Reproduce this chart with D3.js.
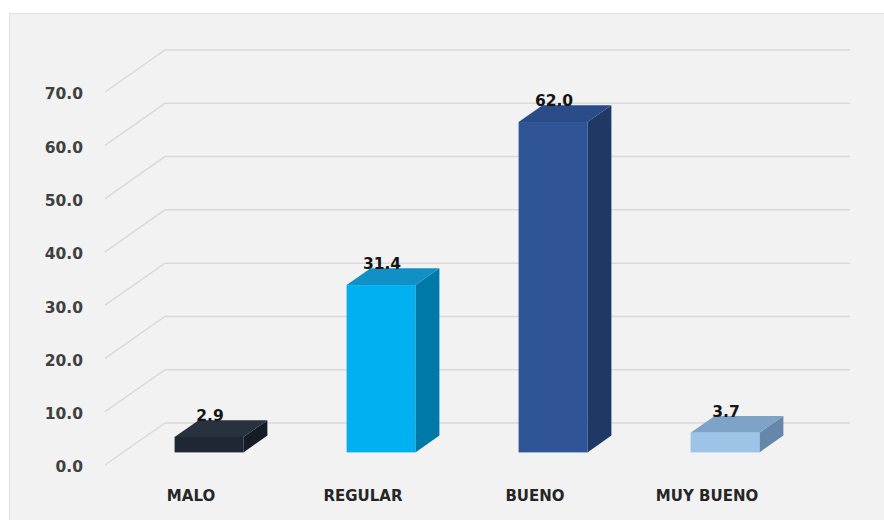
<!DOCTYPE html>
<html>
<head>
<meta charset="utf-8">
<script src="https://cdn.jsdelivr.net/npm/d3@7"></script>
<style>
  html, body { margin: 0; padding: 0; background: #ffffff; }
  svg { display: block; }
</style>
</head>
<body>
<svg id="chart" width="884" height="520"></svg>
<script>
// Ratings and their shares (%)
const categories = ["MALO", "REGULAR", "BUENO", "MUY BUENO"];
const values = [2.9, 31.4, 62.0, 3.7];
const yTicks = [0, 10, 20, 30, 40, 50, 60, 70];

// Face colours for each bar: front, top, side
const frontColors = ["#1e2733", "#00b0f0", "#2f5597", "#9dc3e6"];
const topColors   = ["#28323f", "#1190c6", "#2a4c88", "#7fa3c7"];
const sideColors  = ["#151c26", "#0079a8", "#1f3864", "#6687aa"];

const svg = d3.select("#chart");

// Chart panel
svg.append("rect")
  .attr("x", 9.5).attr("y", 13.5)
  .attr("width", 884).attr("height", 520)
  .attr("fill", "#f2f2f2")
  .attr("stroke", "#e2e2e2");

// 3D geometry: the floor recedes by (depthX, depthY) from the front edge to the back wall
const depthX = 60, depthY = -42;
const frontLeft = 105, frontRight = 793, backRight = 850;

const y = d3.scaleLinear().domain([0, 70]).range([465, 92]);
const x = d3.scaleBand().domain(categories)
  .range([frontLeft, frontRight])
  .paddingInner(0.6).paddingOuter(0.3);

// Bars sit between these depth fractions
const d0 = 0.3, d1 = 0.7;
const off = d => [depthX * d, depthY * d];

// Gridlines: short diagonal on the side wall, then along the back wall
const grid = svg.append("g");
yTicks.forEach(t => {
  const yf = y(t);
  grid.append("path")
    .attr("d", `M${frontLeft},${yf} L${frontLeft + depthX},${yf + depthY} L${backRight},${yf + depthY}`)
    .attr("fill", "none")
    .attr("stroke", "#d9d9d9")
    .attr("stroke-width", 1.5);
});

// Y axis labels
const yAxis = svg.append("g")
  .attr("transform", `translate(${frontLeft - 20},2)`)
  .call(d3.axisLeft(y).tickValues(yTicks).tickFormat(d3.format(".1f")).tickSize(0).tickPadding(2));
yAxis.select(".domain").remove();
yAxis.selectAll("text")
  .attr("font-family", "DejaVu Sans, sans-serif")
  .attr("font-weight", "bold")
  .attr("font-size", 15.5)
  .attr("fill", "#404040");

// Bars
const bars = svg.append("g");
categories.forEach((c, i) => {
  const v = values[i];
  const [fx, fy] = off(d0);
  const [bx, by] = off(d1);
  const xl = x(c) + fx, xr = x(c) + x.bandwidth() + fx;
  const yt = y(v) + fy, yb = y(0) + fy;
  const sdx = bx - fx, sdy = by - fy;
  const g = bars.append("g");
  // side face
  g.append("path")
    .attr("d", `M${xr},${yt} L${xr + sdx},${yt + sdy} L${xr + sdx},${yb + sdy} L${xr},${yb} Z`)
    .attr("fill", sideColors[i]);
  // top face
  g.append("path")
    .attr("d", `M${xl},${yt} L${xl + sdx},${yt + sdy} L${xr + sdx},${yt + sdy} L${xr},${yt} Z`)
    .attr("fill", topColors[i]);
  // front face
  g.append("rect")
    .attr("x", xl).attr("y", yt)
    .attr("width", xr - xl).attr("height", yb - yt)
    .attr("fill", frontColors[i]);
  // value label
  g.append("text")
    .attr("x", (xl + xr) / 2 + 1)
    .attr("y", yt - 16)
    .attr("text-anchor", "middle")
    .attr("font-family", "DejaVu Sans, sans-serif")
    .attr("font-weight", "bold")
    .attr("font-size", 15.5)
    .attr("fill", "#141414")
    .text(d3.format(".1f")(v));
});

// Category labels along the front edge of the floor
const xAxis = svg.append("g")
  .attr("transform", `translate(0,${y(0) + 31})`)
  .call(d3.axisBottom(x).tickSize(0).tickPadding(0));
xAxis.select(".domain").remove();
xAxis.selectAll("text")
  .attr("dy", "0.32em")
  .attr("font-family", "DejaVu Sans, sans-serif")
  .attr("font-weight", "bold")
  .attr("font-size", 15)
  .attr("fill", "#262626");
</script>
</body>
</html>
